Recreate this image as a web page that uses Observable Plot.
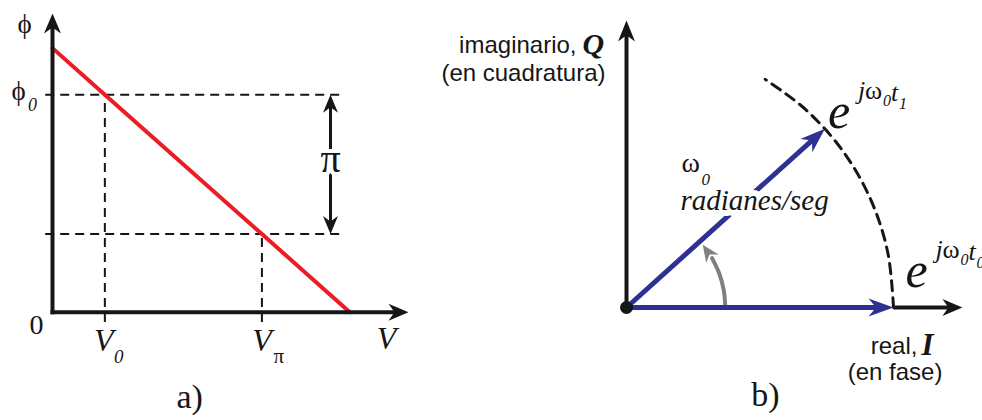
<!DOCTYPE html>
<html>
<head>
<meta charset="utf-8">
<script src="https://cdn.jsdelivr.net/npm/d3@7"></script>
<script src="https://cdn.jsdelivr.net/npm/@observablehq/plot@0.6"></script>
<style>
  html, body { margin: 0; padding: 0; background: #fff; }
  #fig { position: relative; width: 982px; height: 420px; overflow: hidden; background: #fff; }
  #panel-a, #panel-b { position: absolute; top: 0; }
  #panel-a { left: 0; }
  #panel-b { left: 420px; }
</style>
</head>
<body>
<div id="fig"><div id="panel-a"></div><div id="panel-b"></div></div>
<script>
// ---------- (a) phase shift versus drive voltage ----------
const driveVoltage = [0, 1, 4, 5.68];          // V (arbitrary units)
const phaseShift   = [5.95, 4.90, 1.76, 0];    // ϕ(V), rad
const V0 = 1, Vpi = 4;                         // marked drive voltages
const phi0 = 4.90, phiPi = 1.76;               // phase at V0 and at Vπ (differ by π)
const vAxisEnd = 6.8, phiAxisEnd = 6.73;       // axis extents
const piBracketV = 5.31, piLabelPhi = 3.33;    // the π bracket between the two levels

// ---------- (b) rotating phasor in the I/Q plane ----------
const phasorAngle = 42;                              // deg, e^{jω0 t1}
const locusAngles = [0, 12, 24, 36, 48, 58.7];       // dashed locus, |e^{jωt}| = 1
const sweepAngles = [0, 10, 20, 30];                 // rotation arrow
const sweepRadius = 0.37, sweepHeadAngle = 39.5;
const iAxisEnd = 1.258, qAxisEnd = 1.075;

const serif = "'Liberation Serif', 'Times New Roman', 'DejaVu Serif', serif";
const sans = "'Liberation Sans', Arial, Helvetica, sans-serif";
const ink = "#161616";
const blue = "#2e3192";
const gray = "#808080";
const red = "#ec1c24";

// filled, notched arrowhead with its tip at the anchor point; deg rotates clockwise from "up"
function head(len, half, deg) {
  const a = deg * Math.PI / 180, c = Math.cos(a), s = Math.sin(a);
  const pts = [[0, 0], [half, len], [0, len * 0.7], [-half, len]]
    .map(([x, y]) => [x * c - y * s, x * s + y * c]);
  return {draw(ctx) {
    ctx.moveTo(pts[0][0], pts[0][1]);
    for (const p of pts.slice(1)) ctx.lineTo(p[0], p[1]);
    ctx.closePath();
  }};
}
const tip = (x, y, len, half, deg, fill = ink) =>
  Plot.dot([{x, y}], {x: "x", y: "y", r: 4, symbol: head(len, half, deg), fill, stroke: "none"});

const shaft = (x1, y1, x2, y2, o = {}) =>
  Plot.arrow([{x1, y1, x2, y2}], {x1: "x1", y1: "y1", x2: "x2", y2: "y2",
    headLength: 0, stroke: ink, strokeWidth: 4, strokeLinecap: "butt", ...o});

function label(x, y, text, o = {}) {
  return Plot.text([{x, y}], {x: "x", y: "y", text: () => text, lineAnchor: "bottom",
    fill: ink, fontFamily: serif, ...o});
}

// ---------------- panel a ----------------
const responseLine = driveVoltage.map((v, i) => ({v, phi: phaseShift[i]}));
const dash = {stroke: ink, strokeWidth: 2, strokeDasharray: "9,6"};

const panelA = Plot.plot({
  width: 420, height: 420,
  marginLeft: 52, marginRight: 12, marginTop: 13, marginBottom: 108.3,
  x: {domain: [0, vAxisEnd], axis: null},
  y: {domain: [0, phiAxisEnd], axis: null},
  style: "background: transparent; overflow: visible;",
  marks: [
    Plot.ruleY([phi0, phiPi], {x1: -0.13, x2: 5.6, ...dash}),
    Plot.ruleX([V0], {y1: -0.23, y2: phi0, ...dash}),
    Plot.ruleX([Vpi], {y1: -0.23, y2: phiPi, ...dash}),
    Plot.line(responseLine, {x: "v", y: "phi", stroke: red, strokeWidth: 4}),
    // axes
    shaft(0, 0, vAxisEnd, 0, {insetEnd: 12, strokeLinecap: "square"}),
    shaft(0, 0, 0, phiAxisEnd, {insetEnd: 12, strokeLinecap: "square"}),
    tip(vAxisEnd, 0, 20, 8.5, 90),
    tip(0, phiAxisEnd, 20, 8.5, 0),
    // π bracket
    shaft(piBracketV, phi0, piBracketV, phiPi, {strokeWidth: 3, insetStart: 10, insetEnd: 10}),
    tip(piBracketV, phi0, 18, 7.5, 0),
    tip(piBracketV, phiPi, 18, 7.5, 180),
    label(piBracketV, piLabelPhi, "π", {fontSize: 40, textAnchor: "middle", dy: 8,
      stroke: "white", strokeWidth: 8, paintOrder: "stroke"}),
    // labels
    label(0, phiAxisEnd, "ϕ", {fontSize: 27, textAnchor: "middle", dx: -28, dy: 19}),
    label(0, phi0, "ϕ", {fontSize: 27, textAnchor: "middle", dx: -34, dy: 5}),
    label(0, phi0, "0", {fontSize: 18, fontStyle: "italic", textAnchor: "middle", dx: -20, dy: 16}),
    label(0, 0, "0", {fontSize: 28, textAnchor: "middle", dx: -16, dy: 22}),
    label(V0, 0, "V", {fontSize: 32, fontStyle: "italic", textAnchor: "middle", dx: -1, dy: 39}),
    label(V0, 0, "0", {fontSize: 19, fontStyle: "italic", textAnchor: "middle", dx: 14, dy: 51}),
    label(Vpi, 0, "V", {fontSize: 32, fontStyle: "italic", textAnchor: "middle", dx: 0, dy: 39}),
    label(Vpi, 0, "π", {fontSize: 21, textAnchor: "middle", dx: 17, dy: 51}),
    label(vAxisEnd, 0, "V", {fontSize: 32, fontStyle: "italic", textAnchor: "middle", dx: -22, dy: 37}),
    label(2.62, 0, "a)", {fontSize: 34, textAnchor: "middle", dy: 96})
  ]
});
document.getElementById("panel-a").append(panelA);

// ---------------- panel b ----------------
const rad = d => d * Math.PI / 180;
const polar = (deg, r = 1) => ({x: r * Math.cos(rad(deg)), y: r * Math.sin(rad(deg))});
const locus = locusAngles.map(a => polar(a));
const sweep = sweepAngles.map(a => polar(a, sweepRadius));
const phasorTip = polar(phasorAngle);
const sweepTip = polar(sweepHeadAngle, sweepRadius);

// e^{jω0 t_k}: base letter plus a hand-set superscript
function ePower(x, y, dx, dy, sub) {
  const it = {fontStyle: "italic", textAnchor: "start"};
  return [
    label(x, y, "e", {...it, fontSize: 50, dx, dy}),
    label(x, y, "j", {...it, fontSize: 26, dx: dx + 30, dy: dy - 29}),
    label(x, y, "ω", {fontSize: 26, textAnchor: "start", dx: dx + 37, dy: dy - 29}),
    label(x, y, "0", {...it, fontSize: 16, dx: dx + 55, dy: dy - 22}),
    label(x, y, "t", {...it, fontSize: 26, dx: dx + 63, dy: dy - 27}),
    label(x, y, sub, {...it, fontSize: 16, dx: dx + 71, dy: dy - 19})
  ];
}

const panelB = Plot.plot({
  width: 562, height: 420,
  marginLeft: 206, marginRight: 8.9, marginTop: 20, marginBottom: 113,
  x: {domain: [0, 1.3], axis: null},
  y: {domain: [0, qAxisEnd], axis: null},
  style: "background: transparent; overflow: visible;",
  marks: [
    Plot.line(locus, {x: "x", y: "y", curve: "catmull-rom", stroke: ink, strokeWidth: 3, strokeDasharray: "10,7"}),
    // axes
    shaft(0, 0, 0, qAxisEnd, {insetEnd: 12}),
    shaft(1, 0, iAxisEnd, 0, {insetEnd: 12}),
    tip(0, qAxisEnd, 21, 8.5, 0),
    tip(iAxisEnd, 0, 20, 8.5, 90),
    // rotation sweep
    Plot.line(sweep, {x: "x", y: "y", curve: "catmull-rom", stroke: gray, strokeWidth: 4}),
    tip(sweepTip.x, sweepTip.y, 17, 7.5, -(sweepHeadAngle - 5), gray),
    // phasors
    shaft(0, 0, 1, 0, {stroke: blue, strokeWidth: 5, insetEnd: 14}),
    tip(1, 0, 25, 9, 90, blue),
    shaft(0, 0, phasorTip.x, phasorTip.y, {stroke: blue, strokeWidth: 5, insetEnd: 14}),
    tip(phasorTip.x, phasorTip.y, 25, 9, 90 - phasorAngle, blue),
    Plot.dot([{x: 0, y: 0}], {x: "x", y: "y", r: 6.5, fill: ink, stroke: "none"}),
    // labels
    label(0, qAxisEnd, "imaginario,", {fontFamily: sans, fontSize: 24, textAnchor: "end", dx: -50, dy: 32, ariaLabel: "sans-wide"}),
    label(0, qAxisEnd, "Q", {fontSize: 30, fontStyle: "italic", fontWeight: "bold", textAnchor: "start", dx: -44, dy: 33}),
    label(0, qAxisEnd, "(en cuadratura)", {fontFamily: sans, fontSize: 24, textAnchor: "end", dx: -21, dy: 60, ariaLabel: "sans-wide"}),
    label(iAxisEnd, 0, "real,", {fontFamily: sans, fontSize: 24, textAnchor: "end", dx: -45, dy: 46, ariaLabel: "sans-wide"}),
    label(iAxisEnd, 0, "I", {fontSize: 31, fontStyle: "italic", fontWeight: "bold", textAnchor: "start", dx: -41, dy: 47}),
    label(iAxisEnd, 0, "(en fase)", {fontFamily: sans, fontSize: 24, textAnchor: "end", dx: -20, dy: 72, ariaLabel: "sans-wide"}),
    label(0, 0, "ω", {fontSize: 28, textAnchor: "start", dx: 55, dy: -136}),
    label(0, 0, "0", {fontSize: 17, fontStyle: "italic", textAnchor: "start", dx: 75, dy: -123}),
    label(0, 0, "radianes/seg", {fontSize: 29, fontStyle: "italic", textAnchor: "start", dx: 54, dy: -98,
      stroke: "white", strokeWidth: 12, paintOrder: "stroke", ariaLabel: "serif-wide"}),
    ...ePower(phasorTip.x, phasorTip.y, 3, -1, "1"),
    ...ePower(1, 0, 12, -21, "0"),
    label(0.52, 0, "b)", {fontSize: 34, textAnchor: "middle", dy: 98})
  ]
});
document.getElementById("panel-b").append(panelB);

// slightly looser tracking on the wide labels
for (const g of document.querySelectorAll('g[aria-label="sans-wide"]')) g.style.letterSpacing = "0.9px";
for (const g of document.querySelectorAll('g[aria-label="serif-wide"]')) g.style.letterSpacing = "1.5px";
</script>
</body>
</html>
